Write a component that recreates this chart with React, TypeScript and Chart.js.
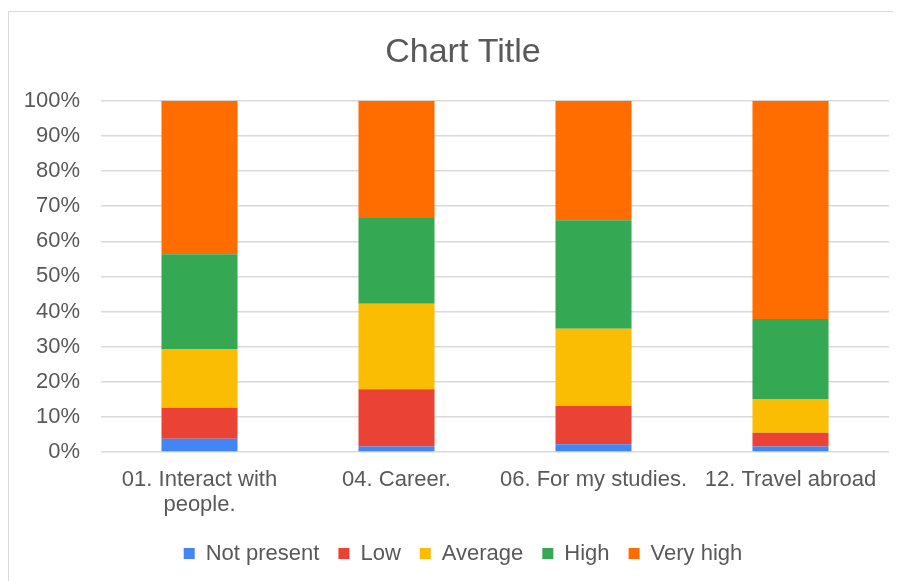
import React, { useEffect, useRef } from "react";
import { Chart, registerables } from "chart.js";

Chart.register(...registerables);

// Categories along the x axis (multi-line labels as string arrays)
const categories: (string | string[])[] = [
  ["01. Interact with", "people."],
  "04. Career.",
  "06. For my studies.",
  "12. Travel abroad",
];

// Share of answers per level, in percent of each category
const notPresent = [3.8, 1.6, 2.2, 1.6];
const low = [8.8, 16.3, 10.9, 3.9];
const average = [16.6, 24.3, 22.0, 9.6];
const high = [27.1, 24.4, 30.9, 22.8];
const veryHigh = [43.7, 33.4, 34.0, 62.1];

const seriesNames = ["Not present", "Low", "Average", "High", "Very high"];
const seriesColors = ["#4285F4", "#EA4335", "#FBBC04", "#34A853", "#FF6D01"];

const yTicks = [0, 10, 20, 30, 40, 50, 60, 70, 80, 90, 100];

const FONT = "'Liberation Sans', Arial, sans-serif";
const TEXT = "#595959";

export default function App() {
  const canvasRef = useRef<HTMLCanvasElement | null>(null);

  useEffect(() => {
    if (!canvasRef.current) return;
    const values = [notPresent, low, average, high, veryHigh];
    const chart = new Chart(canvasRef.current, {
      type: "bar",
      data: {
        labels: categories,
        datasets: seriesNames.map((name, i) => ({
          label: name,
          data: values[i],
          backgroundColor: seriesColors[i],
          borderWidth: 0,
          barPercentage: 0.386,
          categoryPercentage: 1,
        })),
      },
      options: {
        animation: false,
        responsive: false,
        maintainAspectRatio: false,
        layout: { padding: { top: 20, right: 12, bottom: 6.5, left: 28 } },
        plugins: {
          title: {
            display: true,
            text: "Chart Title",
            color: TEXT,
            font: { family: FONT, size: 34, weight: "normal", lineHeight: 1.2 },
            padding: { top: 0, bottom: 28 },
          },
          legend: {
            position: "bottom",
            labels: {
              color: TEXT,
              font: { family: FONT, size: 22 },
              boxWidth: 11,
              boxHeight: 11,
              padding: 19,
            },
          },
          tooltip: { enabled: false },
        },
        scales: {
          x: {
            stacked: true,
            grid: { display: false },
            border: { display: false },
            afterFit: (axis: any) => {
              axis.height -= 0.5;
            },
            ticks: {
              color: TEXT,
              font: { family: FONT, size: 22, lineHeight: 1.136 },
              maxRotation: 0,
              minRotation: 0,
              autoSkip: false,
              padding: 7,
            },
          },
          y: {
            stacked: true,
            min: 0,
            max: 100,
            afterBuildTicks: (axis: any) => {
              axis.ticks = yTicks.map((v) => ({ value: v }));
            },
            afterFit: (axis: any) => {
              // narrow axis box; let the percent labels extend past its left edge
              axis.width = 64;
              axis._computeLabelArea = () => undefined;
            },
            grid: { color: "#d9d9d9", lineWidth: 1.5, drawTicks: false },
            border: { display: false },
            ticks: {
              color: TEXT,
              font: { family: FONT, size: 22 },
              padding: 21,
              callback: (v: any) => v + "%",
            },
          },
        },
      },
    });
    return () => chart.destroy();
  }, []);

  return (
    <div
      style={{
        marginTop: 3,
        borderTop: "1px solid #d9d9d9",
        borderLeft: "1px solid #d9d9d9",
        width: 892,
        height: 569,
        background: "#fff",
      }}
    >
      <canvas ref={canvasRef} width={892} height={569} style={{ display: "block" }} />
    </div>
  );
}
